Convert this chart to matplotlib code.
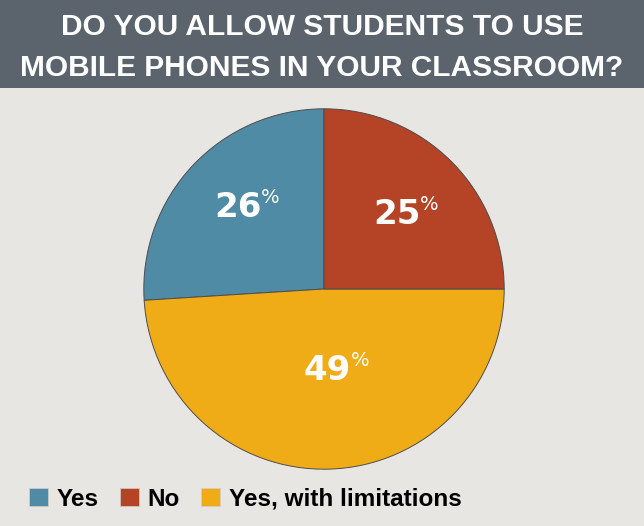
import matplotlib.pyplot as plt
from matplotlib.patches import Patch, Rectangle
import numpy as np

# Data
categories = ["Yes", "No", "Yes, with limitations"]
shares = [26, 25, 49]
colors = ["#4f8ba5", "#b54326", "#f0ac17"]

title_lines = ["DO YOU ALLOW STUDENTS TO USE",
               "MOBILE PHONES IN YOUR CLASSROOM?"]

W, H = 644, 526
BG = "#e8e6e2"
BANNER = "#5b646c"

fig = plt.figure(figsize=(W / 100, H / 100), dpi=100, facecolor=BG)

# Title banner
fig.patches.append(Rectangle((0, 1 - 88 / H), 1, 88 / H, transform=fig.transFigure,
                             facecolor=BANNER, edgecolor="none", zorder=0))
title_font = ["Liberation Sans", "DejaVu Sans"]
fig.text(0.5, 1 - 35 / H, title_lines[0], ha="center", va="baseline", color="white",
         fontsize=21.5, fontweight="bold", family=title_font)
fig.text(0.5, 1 - 76 / H, title_lines[1], ha="center", va="baseline", color="white",
         fontsize=21.5, fontweight="bold", family=title_font)

# Pie axes: centre (324, 289), radius 182 px
cx, cy, r = 324, 289, 182
ax = fig.add_axes([(cx - r) / W, (H - cy - r) / H, 2 * r / W, 2 * r / H])
ax.set_facecolor("none")

# draw counterclockwise from 12 o'clock: Yes, Yes with limitations, No
order = [0, 2, 1]
wedges, _ = ax.pie([shares[i] for i in order], colors=[colors[i] for i in order],
                   startangle=90, counterclock=True, radius=1,
                   wedgeprops=dict(edgecolor="#4d4d4d", linewidth=0.7))
ax.set_xlim(-1.01, 1.01)
ax.set_ylim(-1.01, 1.01)
ax.set_aspect("equal")
ax.axis("off")

label_r = {0: 0.62, 1: 0.63, 2: 0.45}
label_shift = {0: -5, 1: -3, 2: 9}  # degrees

lab_font = ["DejaVu Sans"]
for w, i in zip(wedges, order):
    mid = np.deg2rad((w.theta1 + w.theta2) / 2 + label_shift[i])
    x, y = label_r[i] * np.cos(mid), label_r[i] * np.sin(mid)
    ax.annotate(str(shares[i]), (x, y), xytext=(8.5, -8), textcoords="offset points",
                ha="right", va="baseline", color="white", fontsize=24.5,
                fontweight="bold", family=lab_font)
    ax.annotate("%", (x, y), xytext=(8.5, 2), textcoords="offset points",
                ha="left", va="baseline", color="white", fontsize=14,
                family=lab_font)

# Legend
handles = [Patch(facecolor=c, edgecolor="#cfcfcf", linewidth=0.5) for c in colors]
fig.legend(handles, categories, loc="center left", bbox_to_anchor=(29 / W, 1 - 499 / H),
           ncol=3, frameon=False,
           prop=dict(family=["Liberation Sans", "DejaVu Sans"], weight="bold", size=17.5),
           handlelength=0.78, handleheight=0.78, handletextpad=0.37, columnspacing=0.85,
           borderaxespad=0, borderpad=0)

fig.savefig("out.png", dpi=100, facecolor=BG)
